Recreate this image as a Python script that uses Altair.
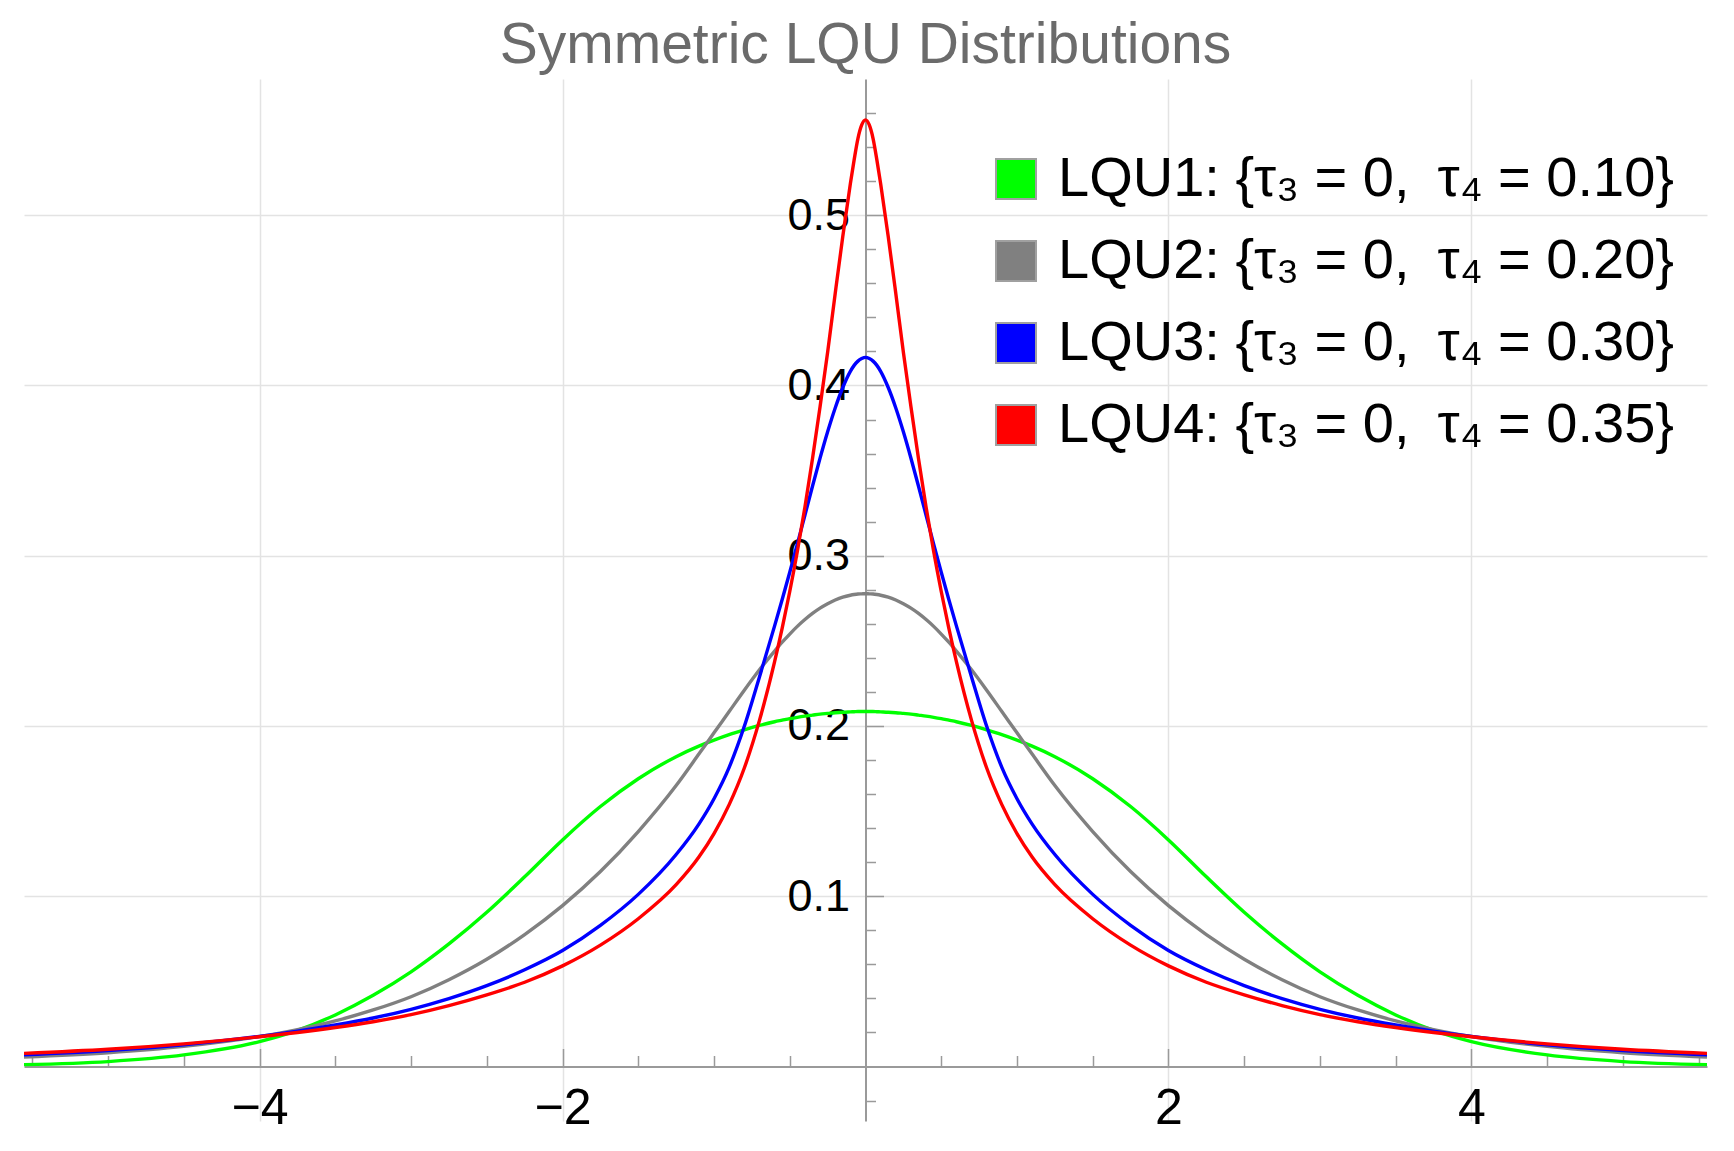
import altair as alt
import pandas as pd

# Density values read for x >= 0; every curve is symmetric about x = 0.
X_POS = [0.0, 0.025, 0.05, 0.075, 0.1, 0.15, 0.2, 0.25, 0.3, 0.35, 0.4, 0.45,
         0.5, 0.55, 0.6, 0.7, 0.8, 0.9, 1.0, 1.1, 1.25, 1.5, 1.75, 2.0, 2.25,
         2.5, 2.75, 3.0, 3.25, 3.5, 3.75, 4.0, 4.5, 5.0, 5.555]

LQU1 = [0.2085, 0.2085, 0.2085, 0.2084, 0.2083, 0.2081, 0.2078, 0.2074, 0.2070,
        0.2064, 0.2058, 0.2051, 0.2043, 0.2034, 0.2025, 0.2003, 0.1977, 0.1949,
        0.1917, 0.1882, 0.1820, 0.1690, 0.1527, 0.1331, 0.1114, 0.0906, 0.0720,
        0.0556, 0.0418, 0.0303, 0.0212, 0.0146, 0.0068, 0.0029, 0.0011]
LQU2 = [0.2777, 0.2776, 0.2775, 0.2772, 0.2768, 0.2757, 0.2740, 0.2718, 0.2692,
        0.2661, 0.2625, 0.2585, 0.2540, 0.2492, 0.2440, 0.2330, 0.2210, 0.2085,
        0.1960, 0.1835, 0.1650, 0.1380, 0.1145, 0.0945, 0.0775, 0.0630, 0.0510,
        0.0410, 0.0332, 0.0268, 0.0217, 0.0176, 0.0118, 0.0081, 0.0056]
LQU3 = [0.4165, 0.4158, 0.4143, 0.4118, 0.4083, 0.3988, 0.3868, 0.3728, 0.3573,
        0.3408, 0.3238, 0.3068, 0.2903, 0.2743, 0.2588, 0.2288, 0.1998, 0.1757,
        0.1573, 0.1424, 0.1245, 0.1011, 0.0829, 0.0681, 0.0568, 0.0475, 0.0399,
        0.0336, 0.0285, 0.0244, 0.0208, 0.0177, 0.0128, 0.0094, 0.0069]
LQU4 = [0.5560, 0.5530, 0.5450, 0.5325, 0.5185, 0.4875, 0.4540, 0.4195, 0.3875,
        0.3570, 0.3285, 0.3025, 0.2790, 0.2575, 0.2378, 0.2033, 0.1753, 0.1538,
        0.1368, 0.1230, 0.1068, 0.0868, 0.0713, 0.0591, 0.0495, 0.0421, 0.0358,
        0.0305, 0.0263, 0.0229, 0.0200, 0.0175, 0.0133, 0.0101, 0.0077]

SERIES = [
    "LQU1: {τ₃ = 0,\u2002τ₄ = 0.10}",
    "LQU2: {τ₃ = 0,\u2002τ₄ = 0.20}",
    "LQU3: {τ₃ = 0,\u2002τ₄ = 0.30}",
    "LQU4: {τ₃ = 0,\u2002τ₄ = 0.35}",
]
COLORS = ["#00ff00", "#808080", "#0000ff", "#ff0000"]

X_LABELS = [-4, -2, 2, 4]
X_MINOR = [-5.5, -5, -4.5, -3.5, -3, -2.5, -1.5, -1, -0.5,
           0.5, 1, 1.5, 2.5, 3, 3.5, 4.5, 5, 5.5]
Y_LABELS = [0.1, 0.2, 0.3, 0.4, 0.5]
Y_MINOR = [-0.02, 0.02, 0.04, 0.06, 0.08, 0.12, 0.14, 0.16, 0.18, 0.22, 0.24,
           0.26, 0.28, 0.32, 0.34, 0.36, 0.38, 0.42, 0.44, 0.46, 0.48, 0.52,
           0.54, 0.56]

X_MIN, X_MAX = -5.555, 5.555
Y_MIN, Y_MAX = -0.032, 0.58

W, H = 1683, 1042
ZERO_FROM_BOTTOM = (0 - Y_MIN) / (Y_MAX - Y_MIN) * H

FONT = "Liberation Sans"
AXIS_GRAY = "#9a9a9a"
GRID_GRAY = "#e3e3e3"

rows = []
for name, vals in zip(SERIES, [LQU1, LQU2, LQU3, LQU4]):
    for x, v in zip(X_POS, vals):
        rows.append({"x": x, "density": v, "series": name})
        if x > 0:
            rows.append({"x": -x, "density": v, "series": name})
df = pd.DataFrame(rows)

x_scale = alt.Scale(domain=[X_MIN, X_MAX], nice=False, zero=False)
y_scale = alt.Scale(domain=[Y_MIN, Y_MAX], nice=False, zero=False)
color_scale = alt.Scale(domain=SERIES, range=COLORS)

# curves + grid lines
curves = alt.Chart(df).mark_line(strokeWidth=3.4, interpolate="monotone", clip=True).encode(
    x=alt.X("x:Q", scale=x_scale,
            axis=alt.Axis(orient="bottom", values=X_LABELS, title=None, labels=False,
                          ticks=False, domain=False, grid=True, gridColor=GRID_GRAY,
                          gridWidth=1.5)),
    y=alt.Y("density:Q", scale=y_scale,
            axis=alt.Axis(orient="left", values=Y_LABELS, title=None, labels=False,
                          ticks=False, domain=False, grid=True, gridColor=GRID_GRAY,
                          gridWidth=1.5)),
    color=alt.Color("series:N", scale=color_scale, legend=None),
    detail="series:N",
)

# axis lines crossing at the origin, with their labels
axes_lines = alt.Chart(df).mark_line(opacity=0).encode(
    x=alt.X("x:Q", scale=x_scale,
            axis=alt.Axis(orient="bottom", offset=-ZERO_FROM_BOTTOM, values=X_LABELS,
                          format="d", title=None, ticks=False, grid=False, domain=True,
                          domainColor=AXIS_GRAY, domainWidth=2, labelFont=FONT,
                          labelFontSize=50, labelColor="black", labelPadding=17)),
    y=alt.Y("density:Q", scale=y_scale,
            axis=alt.Axis(orient="left", offset=-W / 2, values=Y_LABELS, format=".1f",
                          title=None, ticks=False, grid=False, domain=True,
                          domainColor=AXIS_GRAY, domainWidth=2, labelFont=FONT,
                          labelFontSize=45, labelColor="black", labelPadding=16,
                          labelBaseline="middle")),
    detail="series:N",
)

# minor ticks pointing into the plot
minor_ticks = alt.Chart(df).mark_line(opacity=0).encode(
    x=alt.X("x:Q", scale=x_scale,
            axis=alt.Axis(orient="top", offset=-(H - ZERO_FROM_BOTTOM), values=X_MINOR,
                          title=None, labels=False, domain=False, grid=False,
                          ticks=True, tickSize=11, tickColor=AXIS_GRAY, tickWidth=1.5)),
    y=alt.Y("density:Q", scale=y_scale,
            axis=alt.Axis(orient="right", offset=-W / 2, values=Y_MINOR,
                          title=None, labels=False, domain=False, grid=False,
                          ticks=True, tickSize=10, tickColor=AXIS_GRAY, tickWidth=1.5)),
    detail="series:N",
)

# major ticks
major_ticks = alt.Chart(df).mark_line(opacity=0).encode(
    x=alt.X("x:Q", scale=x_scale,
            axis=alt.Axis(orient="top", offset=-(H - ZERO_FROM_BOTTOM), values=X_LABELS,
                          title=None, labels=False, domain=False, grid=False,
                          ticks=True, tickSize=18, tickColor=AXIS_GRAY, tickWidth=1.5)),
    y=alt.Y("density:Q", scale=y_scale,
            axis=alt.Axis(orient="right", offset=-W / 2, values=Y_LABELS,
                          title=None, labels=False, domain=False, grid=False,
                          ticks=True, tickSize=18, tickColor=AXIS_GRAY, tickWidth=1.5)),
    detail="series:N",
)

# legend carrier: filled squares keyed to the same colour scale (no marks drawn)
legend_keys = alt.Chart(df).mark_square(filled=True, size=1600).encode(
    x=alt.X("x:Q", scale=x_scale, axis=None),
    y=alt.Y("density:Q", scale=y_scale, axis=None),
    color=alt.Color("series:N", scale=color_scale,
                    legend=alt.Legend(title=None, orient="none", legendX=964, legendY=72,
                                      symbolType="square", symbolSize=1600,
                                      symbolStrokeColor="#a0a0a0", symbolStrokeWidth=2,
                                      symbolOpacity=1, labelFont=FONT, labelFontSize=56,
                                      labelColor="black", labelLimit=1000, labelOffset=14,
                                      rowPadding=26, padding=0)),
).transform_filter("datum.x > 100")

chart = alt.layer(curves, axes_lines, minor_ticks, major_ticks, legend_keys).resolve_axis(
    x="independent", y="independent"
).resolve_legend(
    color="independent"
).properties(
    width=W,
    height=H,
    background="white",
    autosize=alt.AutoSizeParams(type="none"),
    padding={"left": 24, "top": 79, "right": 27, "bottom": 30},
    title=alt.TitleParams("Symmetric LQU Distributions", font=FONT, fontSize=57,
                          fontWeight="normal", color="#6b6b6b", anchor="middle", offset=4),
).configure_view(stroke=None)

chart.save("out.html", embed_options={"renderer": "svg", "actions": False})
